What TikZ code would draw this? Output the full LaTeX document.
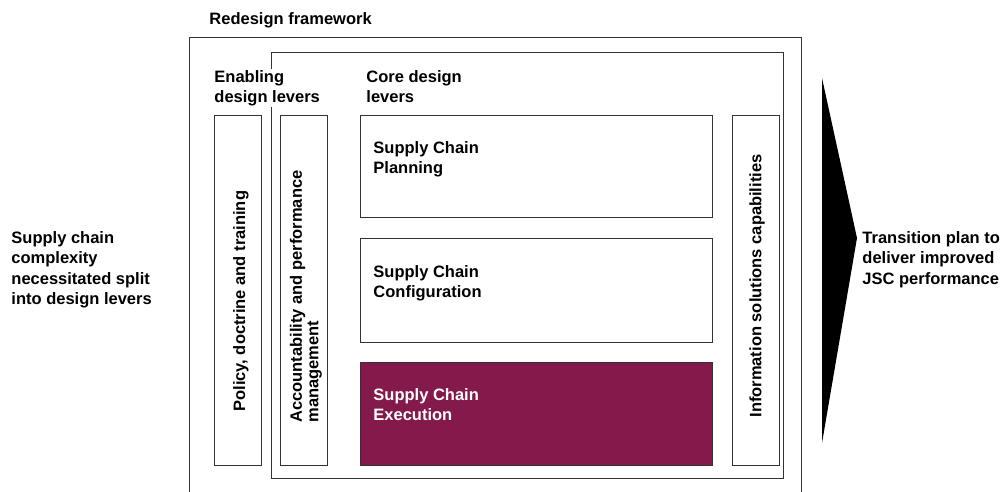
\documentclass[tikz,border=0pt]{standalone}
\usepackage{fontspec}
\setmainfont{Liberation Sans}
\definecolor{maroon}{RGB}{132,25,75}
\begin{document}
\begin{tikzpicture}[x=1pt,y=-1pt, line width=0.9pt,
  txt/.style={font=\fontsize{16.5}{20.5}\selectfont\bfseries, align=left, inner sep=0pt, anchor=north west},
  lever/.style={draw=black!80, anchor=north west, inner sep=0pt},
  rot/.style={font=\fontsize{16.5}{16.5}\selectfont\bfseries, rotate=90, anchor=west, align=left, inner sep=0pt}]
\useasboundingbox (0,0) rectangle (1005,492);
% outer frame
\draw[black!80] (189,492) -- (189,37) -- (801,37) -- (801,492);
\node[txt] (title) at (209,12) {Redesign framework};
% inner frame
\node[lever, minimum width=512, minimum height=426] (inner) at (271,52) {};
\node[txt, fill=white, inner sep=1pt] (enab) at (213,69) {Enabling\\design levers};
\node[txt] (core) at (366,70) {Core design\\levers};
% lever boxes
\node[lever, minimum width=47, minimum height=350] (policy) at (214,115) {};
\node[lever, minimum width=47, minimum height=350] (acc) at (280,115) {};
\node[lever, minimum width=352, minimum height=102] (plan) at (360,115) {};
\node[lever, minimum width=352, minimum height=104] (conf) at (360,238) {};
\node[lever, fill=maroon, minimum width=352, minimum height=103] (exec) at (360,362) {};
\node[lever, minimum width=47, minimum height=350] (info) at (732,115) {};
% texts in boxes
\node[txt] (plant) at (373,141) {Supply Chain\\Planning};
\node[txt] (conft) at (373,265) {Supply Chain\\Configuration};
\node[txt, text=white] (exect) at (373,388) {Supply Chain\\Execution};
\node[rot] (policyt) at (241,412) {Policy, doctrine and training};
\node[rot] (acct) at (306,423) {Accountability and performance\\management};
\node[rot] (infot) at (757,418) {Information solutions capabilities};
% side texts
\node[txt] (left) at (11,231) {Supply chain\\complexity\\necessitated split\\into design levers};
\fill (822,78) -- (857,238) -- (822,443) -- cycle;
\node[txt] (right) at (862,231) {Transition plan to\\deliver improved\\JSC performance};
\end{tikzpicture}
\end{document}
